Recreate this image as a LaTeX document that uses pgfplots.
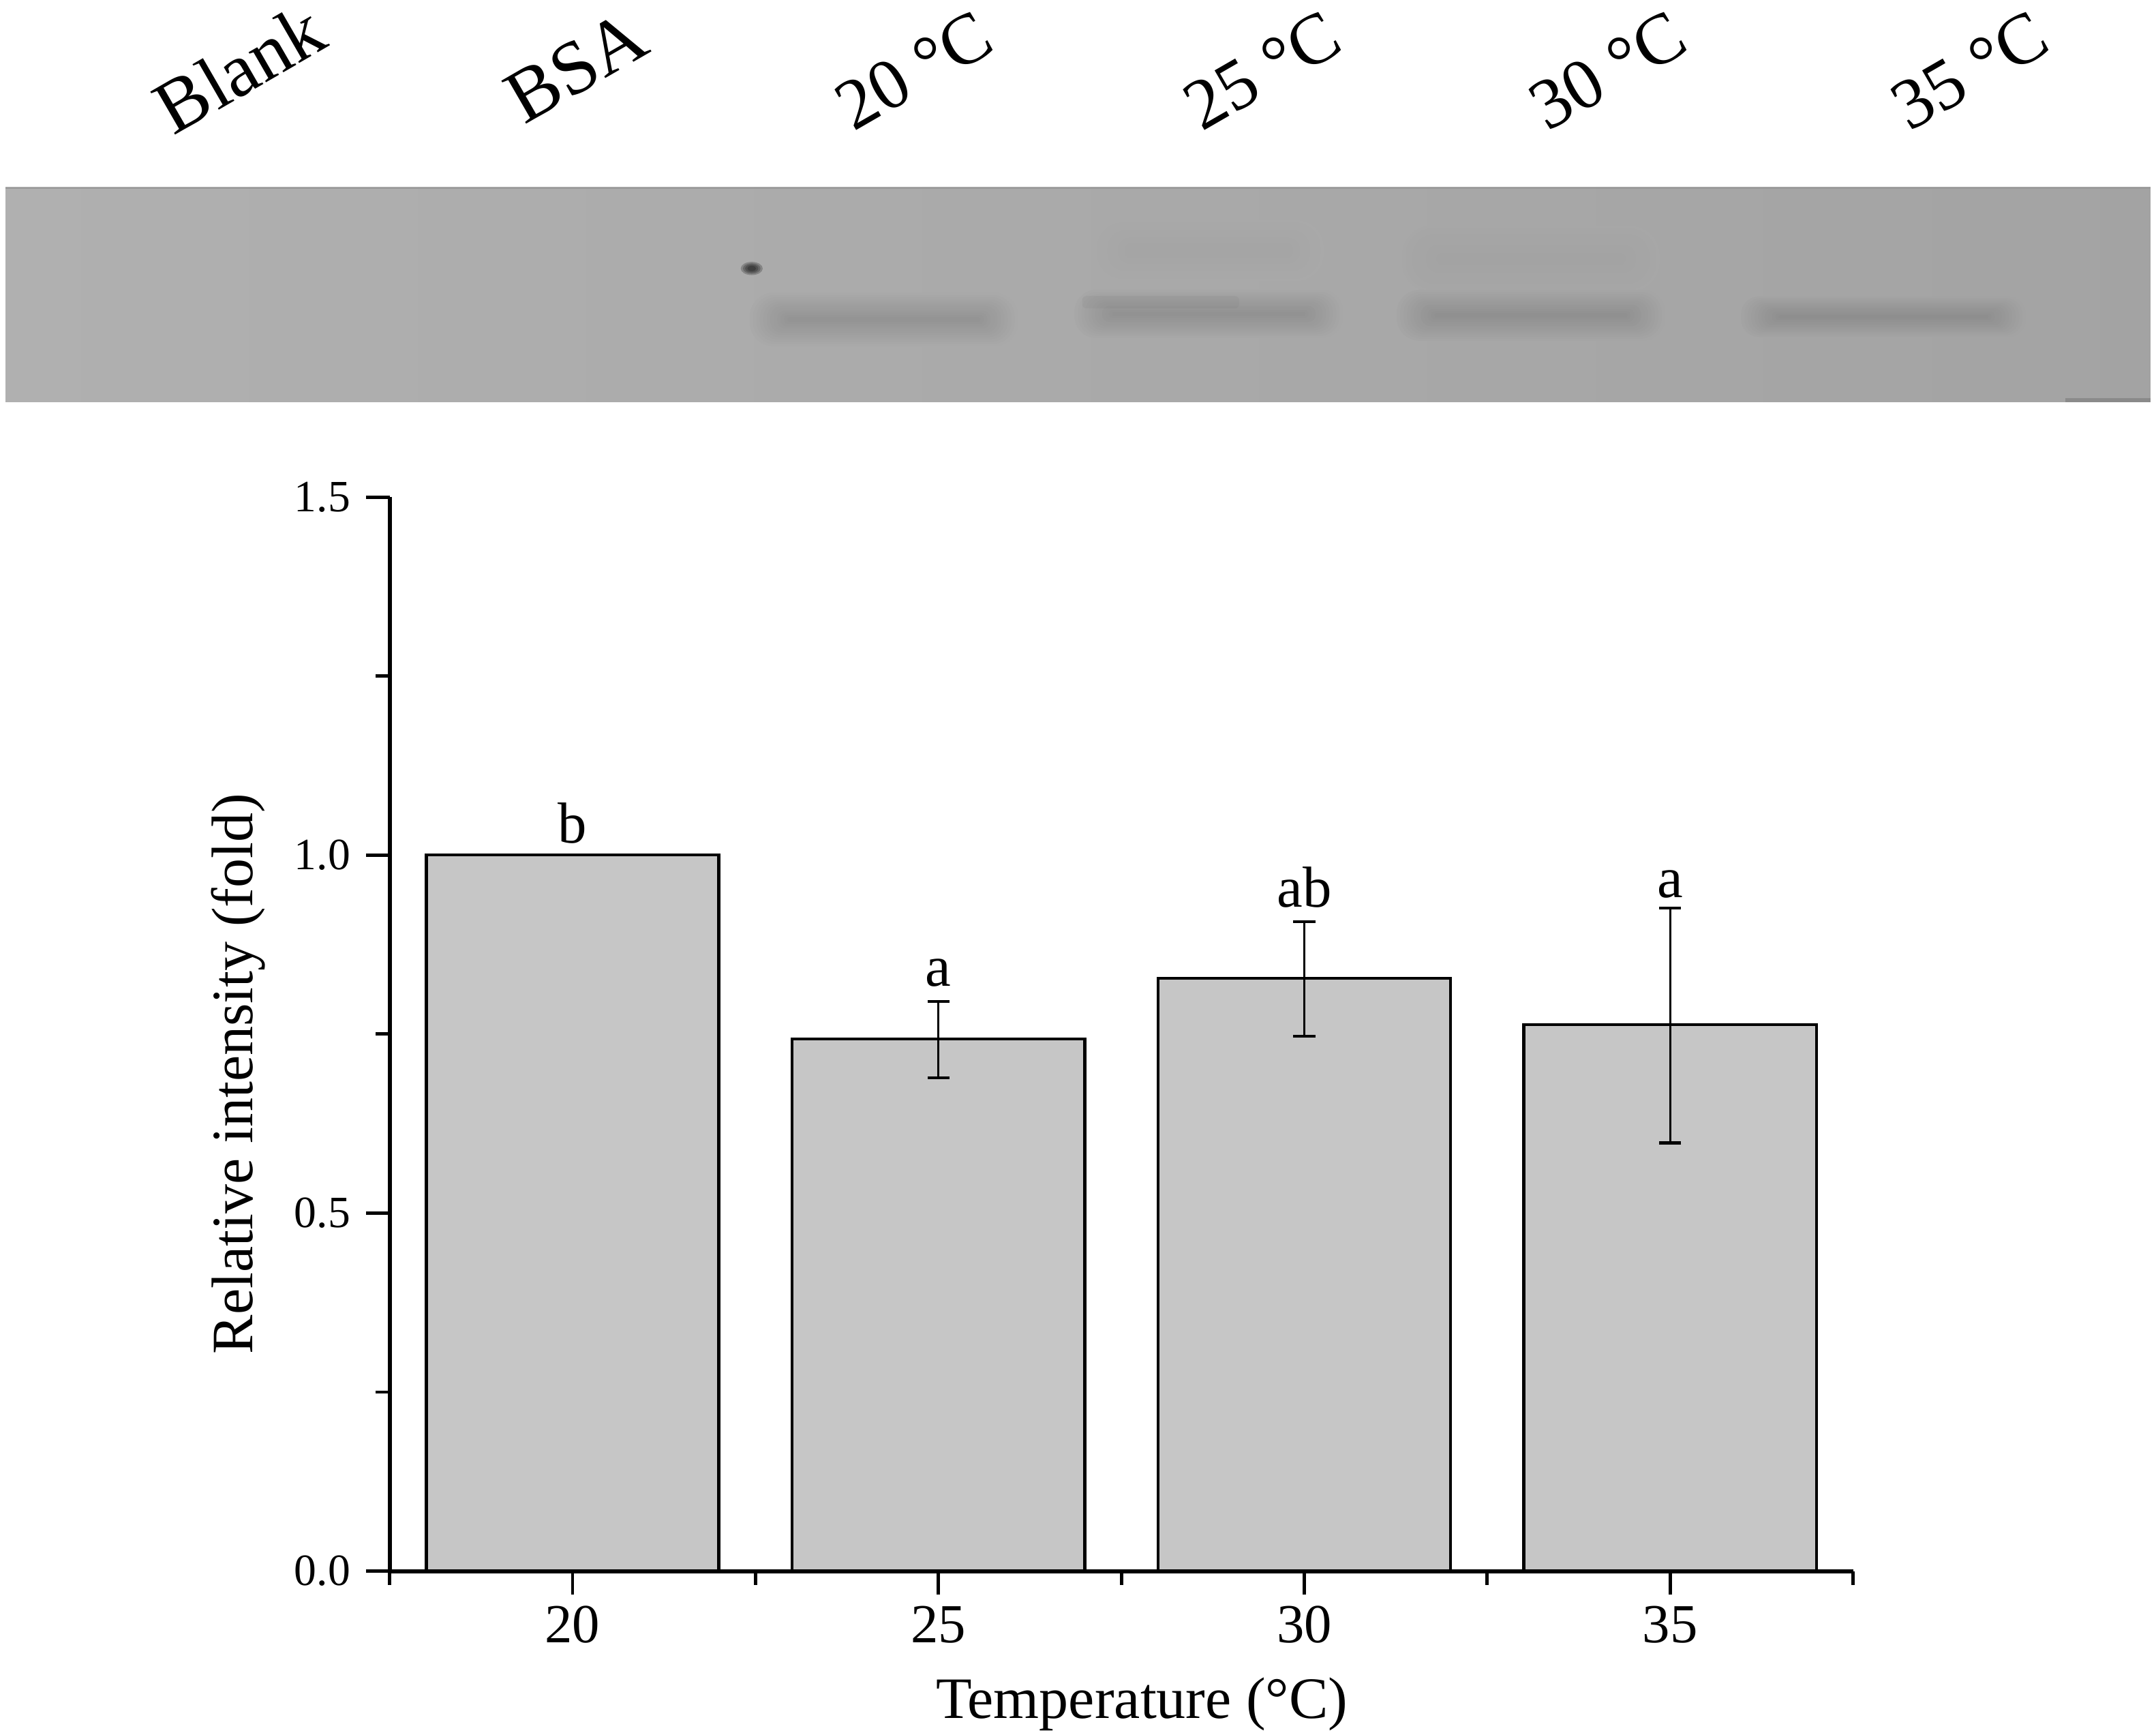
\documentclass[border=0pt]{standalone}
\usepackage{fontspec}
\setmainfont{Liberation Serif}
\usepackage{pgfplots}
\usepackage{pgfplotstable}
\pgfplotsset{compat=1.18}

\definecolor{barfill}{HTML}{C6C6C6}
\definecolor{gelband}{HTML}{6E6E6E}

\pgfplotstableread{
x y
0 1.000
}\firstbar

\pgfplotstableread{
x y up down
1 0.743 0.053 0.054
2 0.828 0.079 0.081
3 0.763 0.163 0.165
}\bardata

\pgfplotstableread{
x y label
0 1.017 b
1 0.817 a
2 0.927 ab
3 0.941 a
}\letters

% soft gel band, nested opaque layers: centre x, centre y, half width, half height, darkening
\newcommand{\gelband}[5]{%
  \pgfmathsetmacro\bgv{31+5*(#1-4)/1558}%
  \foreach \j in {1,...,12}{%
    \pgfmathsetmacro\v{\bgv+#5*\j/12}%
    \pgfmathsetmacro\hh{#4*(13-\j)/13}%
    \pgfmathsetmacro\hw{#3-2.5*\j}%
    \pgfmathsetmacro\r{0.9*\hh}%
    \fill[black!\v,rounded corners=\r pt]
      (#1-\hw,#2-\hh) rectangle (#1+\hw,#2+\hh);}}

\begin{document}
\begin{tikzpicture}[x=1pt,y=1pt]
\useasboundingbox (0,0) rectangle (1566,1260);

% gel strip
\fill[left color=black!31,right color=black!36] (4,968) rectangle (1562,1124);
\fill[black!40] (4,1123) rectangle (1562,1124);
\gelband{878}{1078}{86}{24}{1.5}
\gelband{1112}{1072}{96}{26}{1.5}
\gelband{642}{1028}{100}{21}{9}
\gelband{878}{1032}{100}{19}{9}
\gelband{1112}{1031}{100}{20}{9}
\gelband{1368}{1030}{106}{16}{9}
\fill[gelband,opacity=.1,rounded corners=3pt] (786,1036) rectangle (900,1045);
\foreach \s in {8,6.4,4.8,3.2}{\fill[black,opacity=.22] (546,1065) ellipse [x radius=\s, y radius=0.6*\s];}
\fill[black!55,opacity=.5] (1500,968) rectangle (1562,971);

% lane labels
\begin{scope}[every node/.style={rotate=30,anchor=base west,inner sep=0pt}]
\node[font=\fontsize{55}{60}\selectfont] at (126,1161) {Blank};
\node[font=\fontsize{55}{60}\selectfont] at (381,1169) {BSA};
\node[font=\fontsize{52}{56}\selectfont] at (620,1164) {20 °C};
\node[font=\fontsize{52}{56}\selectfont] at (873,1164) {25 °C};
\node[font=\fontsize{52}{56}\selectfont] at (1124,1164) {30 °C};
\node[font=\fontsize{52}{56}\selectfont] at (1387,1164) {35 °C};
\end{scope}

\begin{axis}[
  at={(283pt,119pt)},anchor=south west,
  scale only axis,width=1063pt,height=780pt,
  xmin=-0.5,xmax=3.5,ymin=0,ymax=1.5,
  axis x line=bottom,axis y line=left,
  axis line style={-,line width=3pt},
  xtick={0,1,2,3},xticklabels={20,25,30,35},
  minor xtick={-0.5,0.5,1.5,2.5,3.5},
  ytick={0,0.5,1,1.5},
  minor ytick={0.25,0.75,1.25},
  tick align=outside,
  major tick length=17pt,minor tick length=10pt,
  every tick/.style={black,line width=2.4pt},
  /pgf/number format/assume math mode=true,
  y tick label style={/pgf/number format/fixed,/pgf/number format/fixed zerofill,/pgf/number format/precision=1,
    font=\fontsize{32.5}{36}\selectfont,xshift=-8pt},
  x tick label style={font=\fontsize{40}{44}\selectfont,yshift=-5pt},
  xlabel={Temperature (°C)},
  ylabel={Relative intensity (fold)},
  label style={font=\fontsize{42.6}{46}\selectfont},
  xlabel style={at={(axis description cs:0.514,0)},anchor=base,yshift=-107pt},
  ylabel style={at={(axis description cs:0,0.463)},anchor=base,yshift=99.5pt},
  clip=false,
]
\addplot[ybar,bar shift=0pt,bar width=0.8,fill=barfill,draw=black,line width=2.2pt]
  table[x=x,y=y] {\firstbar};
\addplot[ybar,bar shift=0pt,bar width=0.8,fill=barfill,draw=black,line width=2.2pt,
  error bars/.cd,y dir=both,y explicit,
  error bar style={line width=1.4pt},
  error mark options={rotate=90,mark size=8pt,line width=2pt}]
  table[x=x,y=y,y error plus=up,y error minus=down] {\bardata};
\addplot[draw=none,mark=none,
  nodes near coords,point meta=explicit symbolic,
  nodes near coords align={anchor=base},
  every node near coord/.append style={anchor=base,inner sep=0pt,
    font=\fontsize{42}{46}\selectfont}]
  table[x=x,y=y,meta=label] {\letters};
\end{axis}
\end{tikzpicture}
\end{document}
